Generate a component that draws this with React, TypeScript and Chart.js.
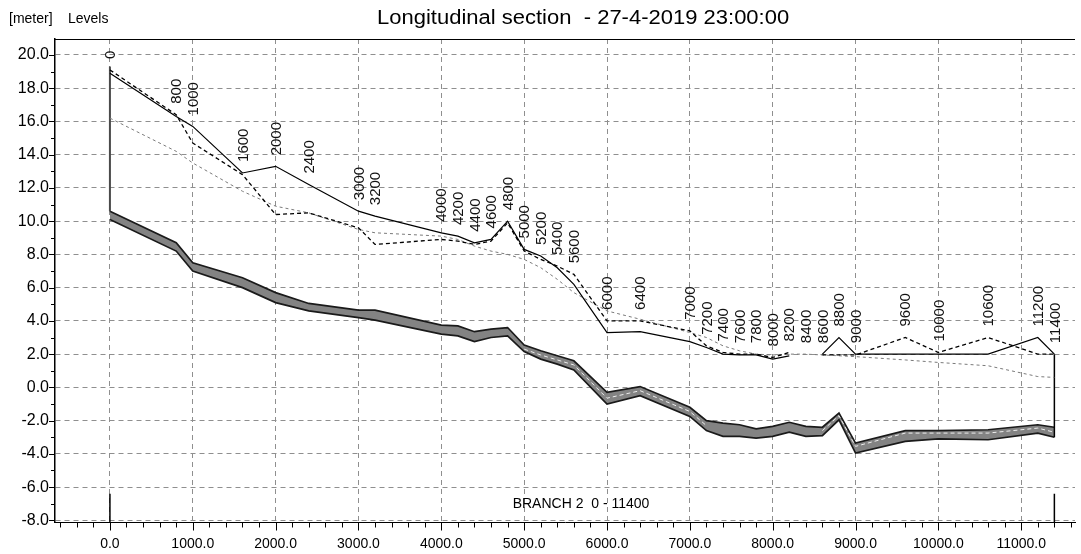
import React, { useEffect, useRef } from "react";
import { Chart, registerables } from "chart.js";

Chart.register(...registerables);

// ---------- data ----------
const chainages = [
  0, 800, 1000, 1600, 2000, 2400, 3000, 3200, 4000, 4200, 4400, 4600, 4800,
  5000, 5200, 5400, 5600, 6000, 6400, 7000, 7200, 7400, 7600, 7800, 8000,
  8200, 8400, 8600, 8800, 9000, 9600, 10000, 10600, 11200, 11400,
];
const chainageLabels = chainages.map((c) => String(c));

// solid black line
const solidLevel = [
  18.9, 16.3, 15.7, 12.9, 13.3, 12.2, 10.6, 10.3, 9.3, 9.1, 8.7, 8.9, 10.0,
  8.3, 7.9, 7.2, 6.2, 3.3, 3.35, 2.75, 2.4, 2.0, 1.95, 1.95, 1.7,
  1.9, null, 2.0, 3.0, 2.0, 2.0, 2.0, 2.0, 3.0, 2.0,
];
// black dashed line
const dashedLevel = [
  19.1, 16.4, 14.7, 12.8, 10.4, 10.5, 9.6, 8.6, 8.9, 8.8, 8.6, 8.8, 9.9,
  8.2, 7.7, 7.3, 6.8, 4.0, 4.0, 3.4, 2.5, 2.1, 2.0, 2.0, 1.8,
  2.1, null, 1.95, 1.95, 1.95, 3.0, 2.1, 3.0, 2.0, 2.0,
];
// grey fine dashed line
const greyLevel = [
  16.2, 14.2, 13.5, 11.8, 10.9, 10.5, 9.5, 9.3, 9.1, 8.9, 8.5, 8.2, 8.0,
  7.7, 7.2, 6.5, 5.7, 4.6, 4.1, 3.3, 3.0, 2.5, 2.2, 2.0, 1.95,
  2.0, 2.0, 1.95, 1.9, 1.85, 1.65, 1.5, 1.3, 0.65, 0.6,
];
// bed band (top and bottom edge)
const bedTop = [
  10.6, 8.7, 7.5, 6.6, 5.7, 5.05, 4.65, 4.65, 3.75, 3.7, 3.35, 3.5, 3.6,
  2.55, 2.2, 1.9, 1.6, -0.3, 0.05, -1.2, -2.0, -2.15, -2.25, -2.5, -2.35,
  -2.1, -2.35, -2.4, -1.55, -3.35, -2.6, -2.6, -2.55, -2.25, -2.4,
];
const bedBottom = [
  10.1, 8.2, 7.0, 6.0, 5.1, 4.6, 4.2, 4.05, 3.2, 3.1, 2.75, 3.0, 3.1,
  2.15, 1.7, 1.4, 1.05, -1.0, -0.5, -1.75, -2.6, -2.95, -2.95, -3.05, -2.95,
  -2.7, -2.95, -2.9, -1.95, -3.95, -3.25, -3.1, -3.15, -2.75, -3.0,
];
// white dashed line inside the bed band
const bedInner = [
  null, null, null, null, null, null, null, null, null, null, null, null, null,
  2.3, 1.95, 1.65, 1.35, -0.65, -0.2, -1.45, -2.3, null, null, null, null,
  null, null, -2.6, -1.7, -3.55, -2.75, -2.75, -2.75, -2.45, -2.7,
];

const startWallTop = 19.3;
const branchTickTop = -6.4;

// axis ticks
const xTickValues = [
  0, 1000, 2000, 3000, 4000, 5000, 6000, 7000, 8000, 9000, 10000, 11000,
];
const yTickValues = [-8, -6, -4, -2, 0, 2, 4, 6, 8, 10, 12, 14, 16, 18, 20];

const xMin = -663;
const xMax = 11649;
const yMin = -8.13;
const yMax = 20.96;

const titleText = "Longitudinal section  - 27-4-2019 23:00:00";
const unitText = "[meter]";
const quantityText = "Levels";
const branchText = "BRANCH 2  0 - 11400";

const FONT = '"Liberation Sans", Arial, sans-serif';

export default function App() {
  const ref = useRef<HTMLCanvasElement>(null);

  useEffect(() => {
    const canvas = ref.current;
    if (!canvas) return;
    const pts = (ys: (number | null)[]) =>
      chainages.map((x, i) => ({ x, y: ys[i] }));
    const last = chainages.length - 1;

    const line = (
      label: string,
      ys: (number | null)[],
      color: string,
      width: number,
      dash: number[],
      extra: any = {}
    ) => ({
      label,
      data: pts(ys),
      borderColor: color,
      borderWidth: width,
      borderDash: dash,
      pointRadius: 0,
      fill: false,
      tension: 0,
      spanGaps: false,
      ...extra,
    });

    const decor = {
      id: "decor",
      afterDraw(chart: any) {
        const { ctx, chartArea: ca, scales } = chart;
        const xs = scales.x;
        const ys = scales.y;
        ctx.save();
        ctx.strokeStyle = "#000";
        ctx.lineWidth = 1;
        ctx.setLineDash([]);
        ctx.beginPath();
        // top frame
        ctx.moveTo(ca.left, Math.round(ca.top) + 0.5);
        ctx.lineTo(ca.right, Math.round(ca.top) + 0.5);
        // x tick marks (major + minor)
        for (let v = Math.ceil(xMin / 200) * 200; v <= xMax; v += 200) {
          const px = Math.round(xs.getPixelForValue(v)) + 0.5;
          const len = v % 1000 === 0 ? 8 : 5;
          ctx.moveTo(px, ca.bottom);
          ctx.lineTo(px, ca.bottom + len);
        }
        // y tick marks (major + minor)
        for (let v = Math.ceil(yMin); v <= yMax; v += 1) {
          const py = Math.round(ys.getPixelForValue(v)) + 0.5;
          const len = v % 2 === 0 ? 6 : 4;
          ctx.moveTo(ca.left - len, py);
          ctx.lineTo(ca.left, py);
        }
        ctx.stroke();

        // chainage labels
        ctx.fillStyle = "#111";
        ctx.font = `15px ${FONT}`;
        ctx.textAlign = "left";
        ctx.textBaseline = "middle";
        chainages.forEach((c, i) => {
          const cand = [solidLevel[i], dashedLevel[i]].filter(
            (v) => v !== null
          ) as number[];
          const base = cand.length
            ? Math.max(...cand)
            : (greyLevel[i] as number);
          const px = xs.getPixelForValue(c);
          const py = ys.getPixelForValue(base) - 11;
          ctx.save();
          ctx.translate(px + 1, py);
          ctx.rotate(-Math.PI / 2);
          ctx.fillText(chainageLabels[i], 0, 0);
          ctx.restore();
        });

        // texts
        ctx.textBaseline = "alphabetic";
        ctx.fillStyle = "#000";
        ctx.font = `14px ${FONT}`;
        ctx.fillText(unitText, 9, 23);
        ctx.fillText(quantityText, 68, 23);
        ctx.save();
        ctx.font = `20px ${FONT}`;
        ctx.translate(377, 24);
        ctx.scale(1.1, 1);
        ctx.fillText(titleText, 0, 0);
        ctx.restore();
        ctx.font = `14px ${FONT}`;
        ctx.textAlign = "center";
        ctx.fillText(branchText, 581, 508);
        ctx.restore();
      },
    };

    const chart = new Chart(canvas, {
      type: "line",
      data: {
        datasets: [
          line("Solid level", solidLevel, "#000", 1.2, []),
          line("Dashed level", dashedLevel, "#000", 1.3, [4, 3]),
          line("Grey level", greyLevel, "#7a7a7a", 1, [3, 3]),
          {
            label: "Start wall",
            data: [
              { x: chainages[0], y: bedTop[0] },
              { x: chainages[0], y: startWallTop },
            ],
            borderColor: "#4a4a4a",
            borderWidth: 2,
            pointRadius: 0,
          },
          {
            label: "End wall",
            data: [
              { x: chainages[last], y: bedBottom[last] },
              { x: chainages[last], y: solidLevel[last] },
            ],
            borderColor: "#000",
            borderWidth: 1.5,
            pointRadius: 0,
          },
          {
            label: "Branch start",
            data: [
              { x: chainages[0], y: yMin },
              { x: chainages[0], y: branchTickTop },
            ],
            borderColor: "#000",
            borderWidth: 1.5,
            pointRadius: 0,
          },
          {
            label: "Branch end",
            data: [
              { x: chainages[last], y: yMin },
              { x: chainages[last], y: branchTickTop },
            ],
            borderColor: "#000",
            borderWidth: 1.5,
            pointRadius: 0,
          },
          line("Bed inner", bedInner, "#eeeeee", 1, [4, 3]),
          line("Bed bottom", bedBottom, "#1a1a1a", 1.7, []),
          line("Bed top", bedTop, "#1a1a1a", 1.7, [], {
            fill: "-1",
            backgroundColor: "#838383",
          }),
        ],
      },
      options: {
        animation: false,
        responsive: false,
        events: [],
        layout: { padding: { top: 39, right: 6, left: 0, bottom: 0 } },
        plugins: {
          legend: { display: false },
          title: { display: false },
          tooltip: { enabled: false },
        },
        scales: {
          x: {
            type: "linear",
            min: xMin,
            max: xMax,
            afterBuildTicks: (s: any) => {
              s.ticks = xTickValues.map((v) => ({ value: v }));
            },
            afterFit: (s: any) => {
              s.height = 31.5;
            },
            ticks: {
              autoSkip: false,
              maxRotation: 0,
              padding: 13,
              color: "#000",
              font: { size: 14, family: FONT },
              callback: (v: any) => Number(v).toFixed(1),
            },
            grid: { color: "#8f8f8f", lineWidth: 1, drawTicks: false },
            border: { display: true, color: "#000", width: 1, dash: [5, 4] },
          },
          y: {
            type: "linear",
            min: yMin,
            max: yMax,
            afterBuildTicks: (s: any) => {
              s.ticks = yTickValues.map((v) => ({ value: v }));
            },
            afterFit: (s: any) => {
              s.width = 55;
            },
            ticks: {
              autoSkip: false,
              padding: 6,
              color: "#000",
              font: { size: 16, family: FONT },
              callback: (v: any) => Number(v).toFixed(1),
            },
            grid: { color: "#8f8f8f", lineWidth: 1, drawTicks: false },
            border: { display: true, color: "#000", width: 1.5, dash: [5, 4] },
          },
        },
      },
      plugins: [decor],
    } as any);

    return () => chart.destroy();
  }, []);

  return (
    <div
      style={{
        position: "fixed",
        left: 0,
        top: 0,
        width: 1081,
        height: 554,
        background: "#fff",
      }}
    >
      <canvas
        ref={ref}
        width={1081}
        height={554}
        style={{ display: "block", width: 1081, height: 554 }}
      />
    </div>
  );
}
